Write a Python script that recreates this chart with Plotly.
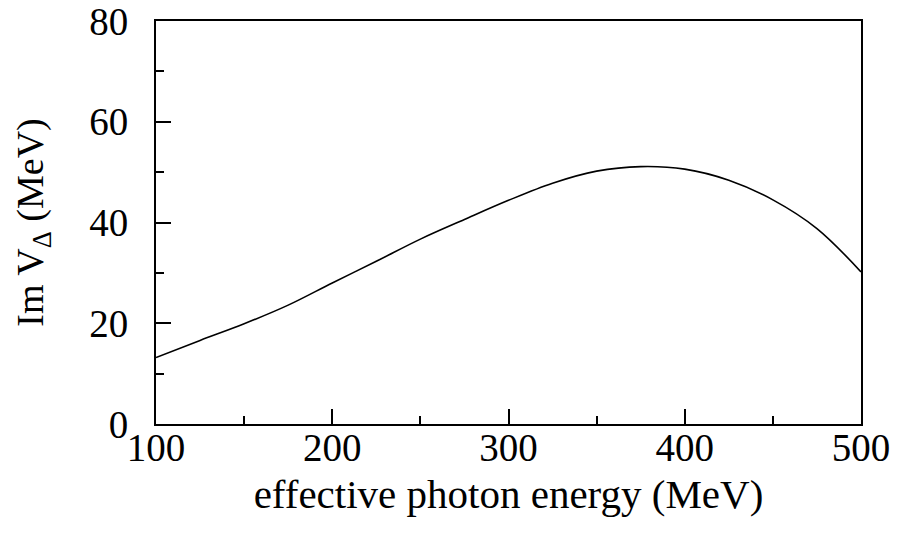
import plotly.graph_objects as go

# Imaginary part of the Delta potential vs. effective photon energy
energy_mev = [100, 125, 150, 175, 200, 225, 250, 275, 300, 325, 350, 375, 400, 425, 450, 475, 500]
im_v_delta = [13.2, 16.6, 19.9, 23.6, 28.0, 32.3, 36.7, 40.6, 44.4, 47.8, 50.2, 51.1, 50.6, 48.4, 44.5, 38.8, 30.2]

x_ticks = [100, 200, 300, 400, 500]
y_ticks = [0, 20, 40, 60, 80]

FONT = "Liberation Serif, Times New Roman, serif"
TICK_SIZE = 39
TITLE_SIZE = 41

fig = go.Figure()
fig.add_trace(go.Scatter(
    x=energy_mev, y=im_v_delta, mode="lines",
    line=dict(color="black", width=1.6, shape="spline", smoothing=1.0),
    showlegend=False, hoverinfo="skip",
))

axis_common = dict(
    showgrid=False, zeroline=False, automargin=False,
    showline=True, linecolor="black", linewidth=2, mirror=True,
    ticks="inside", ticklen=15, tickwidth=2, tickcolor="black",
    tickfont=dict(family=FONT, size=TICK_SIZE, color="black"),
    ticklabeloverflow="allow",
)

fig.update_xaxes(
    range=[100, 500], tickvals=x_ticks, ticktext=[str(v) for v in x_ticks],
    minor=dict(dtick=50, ticks="inside", ticklen=8, tickwidth=2, tickcolor="black"),
    title=dict(text="effective photon energy (MeV)", font=dict(family=FONT, size=TITLE_SIZE, color="black"), standoff=12),
    ticklabelstandoff=-12,
    **axis_common,
)
fig.update_yaxes(
    range=[0, 80], tickvals=y_ticks, ticktext=[str(v) for v in y_ticks],
    minor=dict(dtick=10, ticks="inside", ticklen=8, tickwidth=2, tickcolor="black"),
    title=dict(text="Im V<sub>Δ</sub> (MeV)", font=dict(family=FONT, size=38, color="black"), standoff=34),
    ticklabelstandoff=18,
    **axis_common,
)

fig.update_layout(
    width=897, height=534,
    margin=dict(l=156, r=36, t=21, b=110),
    paper_bgcolor="white", plot_bgcolor="white",
)

fig.write_html("out.html")
